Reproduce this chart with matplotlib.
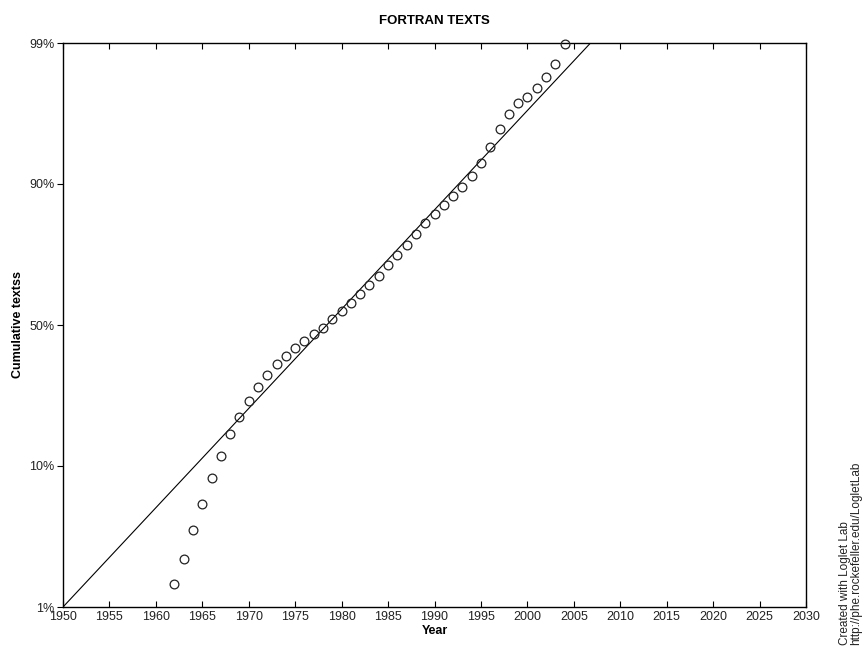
import numpy as np
import matplotlib
matplotlib.use("Agg")
import matplotlib.pyplot as plt
from matplotlib.ticker import FixedLocator, FixedFormatter, NullLocator

# ---- data ----
years = list(range(1962, 2005))
cum_pct = [1.43, 2.14, 3.41, 5.10, 7.60, 10.58, 14.43, 18.28, 22.5, 26.7,
           30.6, 34.5, 37.6, 40.6, 43.5, 46.2, 48.9, 52.3, 55.6, 59.0,
           62.3, 65.8, 69.0, 72.6, 75.7, 78.8, 81.5, 84.0, 85.9, 87.6,
           89.2, 90.5, 91.9, 93.4, 94.8, 96.1, 96.9, 97.4, 97.65, 97.97,
           98.28, 98.60, 98.99]
# logistic fit parameters
fit_midpoint = 1978.4
fit_risetime = 27.1   # 10%->90% time, years
fit_years = [1950, 2030]

xticks = list(range(1950, 2031, 5))
ytick_odds = [0.01, 0.1, 1, 10, 100]
ytick_labels = ['1%', '10%', '50%', '90%', '99%']

title = "FORTRAN TEXTS"
xlabel = "Year"
ylabel = "Cumulative textss"
credit1 = "Created with Loglet Lab"
credit2 = "http://phe.rockefeller.edu/LogletLab"

# ---- figure ----
plt.rcParams['font.family'] = ['Liberation Sans', 'DejaVu Sans']
fig = plt.figure(figsize=(8.65, 6.49), dpi=100)
ax = fig.add_axes([63/865, 1-607/649, (806-63)/865, (607-43)/649])

F = np.array(cum_pct) / 100.0
odds = F / (1 - F)
ax.plot(years, odds, linestyle='none', marker='o', markersize=6.3,
        markerfacecolor='none', markeredgecolor='#222222', markeredgewidth=0.9,
        clip_on=False, zorder=3)

t = np.linspace(fit_years[0], fit_years[1], 400)
a = np.log(81) / fit_risetime
fit_odds = np.exp(a * (t - fit_midpoint))
ax.plot(t, fit_odds, color='black', linewidth=0.8)

ax.set_yscale('log')
ax.set_xlim(1950, 2030)
ax.set_ylim(0.01, 100)
ax.yaxis.set_major_locator(FixedLocator(ytick_odds))
ax.yaxis.set_major_formatter(FixedFormatter(ytick_labels))
ax.yaxis.set_minor_locator(NullLocator())
ax.set_xticks(xticks)
ax.set_xticklabels([str(x) for x in xticks])

ax.tick_params(axis='x', direction='in', length=4, width=0.8, top=True,
               labelsize=9, pad=3, labelcolor='#222222')
ax.tick_params(axis='y', direction='out', length=4, width=0.8, right=False,
               labelsize=9, pad=2, labelcolor='#222222')
for s in ax.spines.values():
    s.set_linewidth(1.0)

ax.set_title(title, fontsize=9.5, fontweight='bold', pad=14)
ax.set_xlabel(xlabel, fontsize=9, fontweight='bold')
ax.xaxis.set_label_coords((434.5-63)/743, -(625-607)/564)
ax.set_ylabel(ylabel, fontsize=9, fontweight='bold')
ax.yaxis.set_label_coords(-(63-24)/743, 0.5)

fig.text(845/865, 1-645/649, credit1, rotation=90, fontsize=8.5,
         ha='center', va='bottom', color='#222222')
fig.text(856/865, 1-645/649, credit2, rotation=90, fontsize=8.5,
         ha='center', va='bottom', color='#222222')

fig.savefig("out.png", dpi=100)
